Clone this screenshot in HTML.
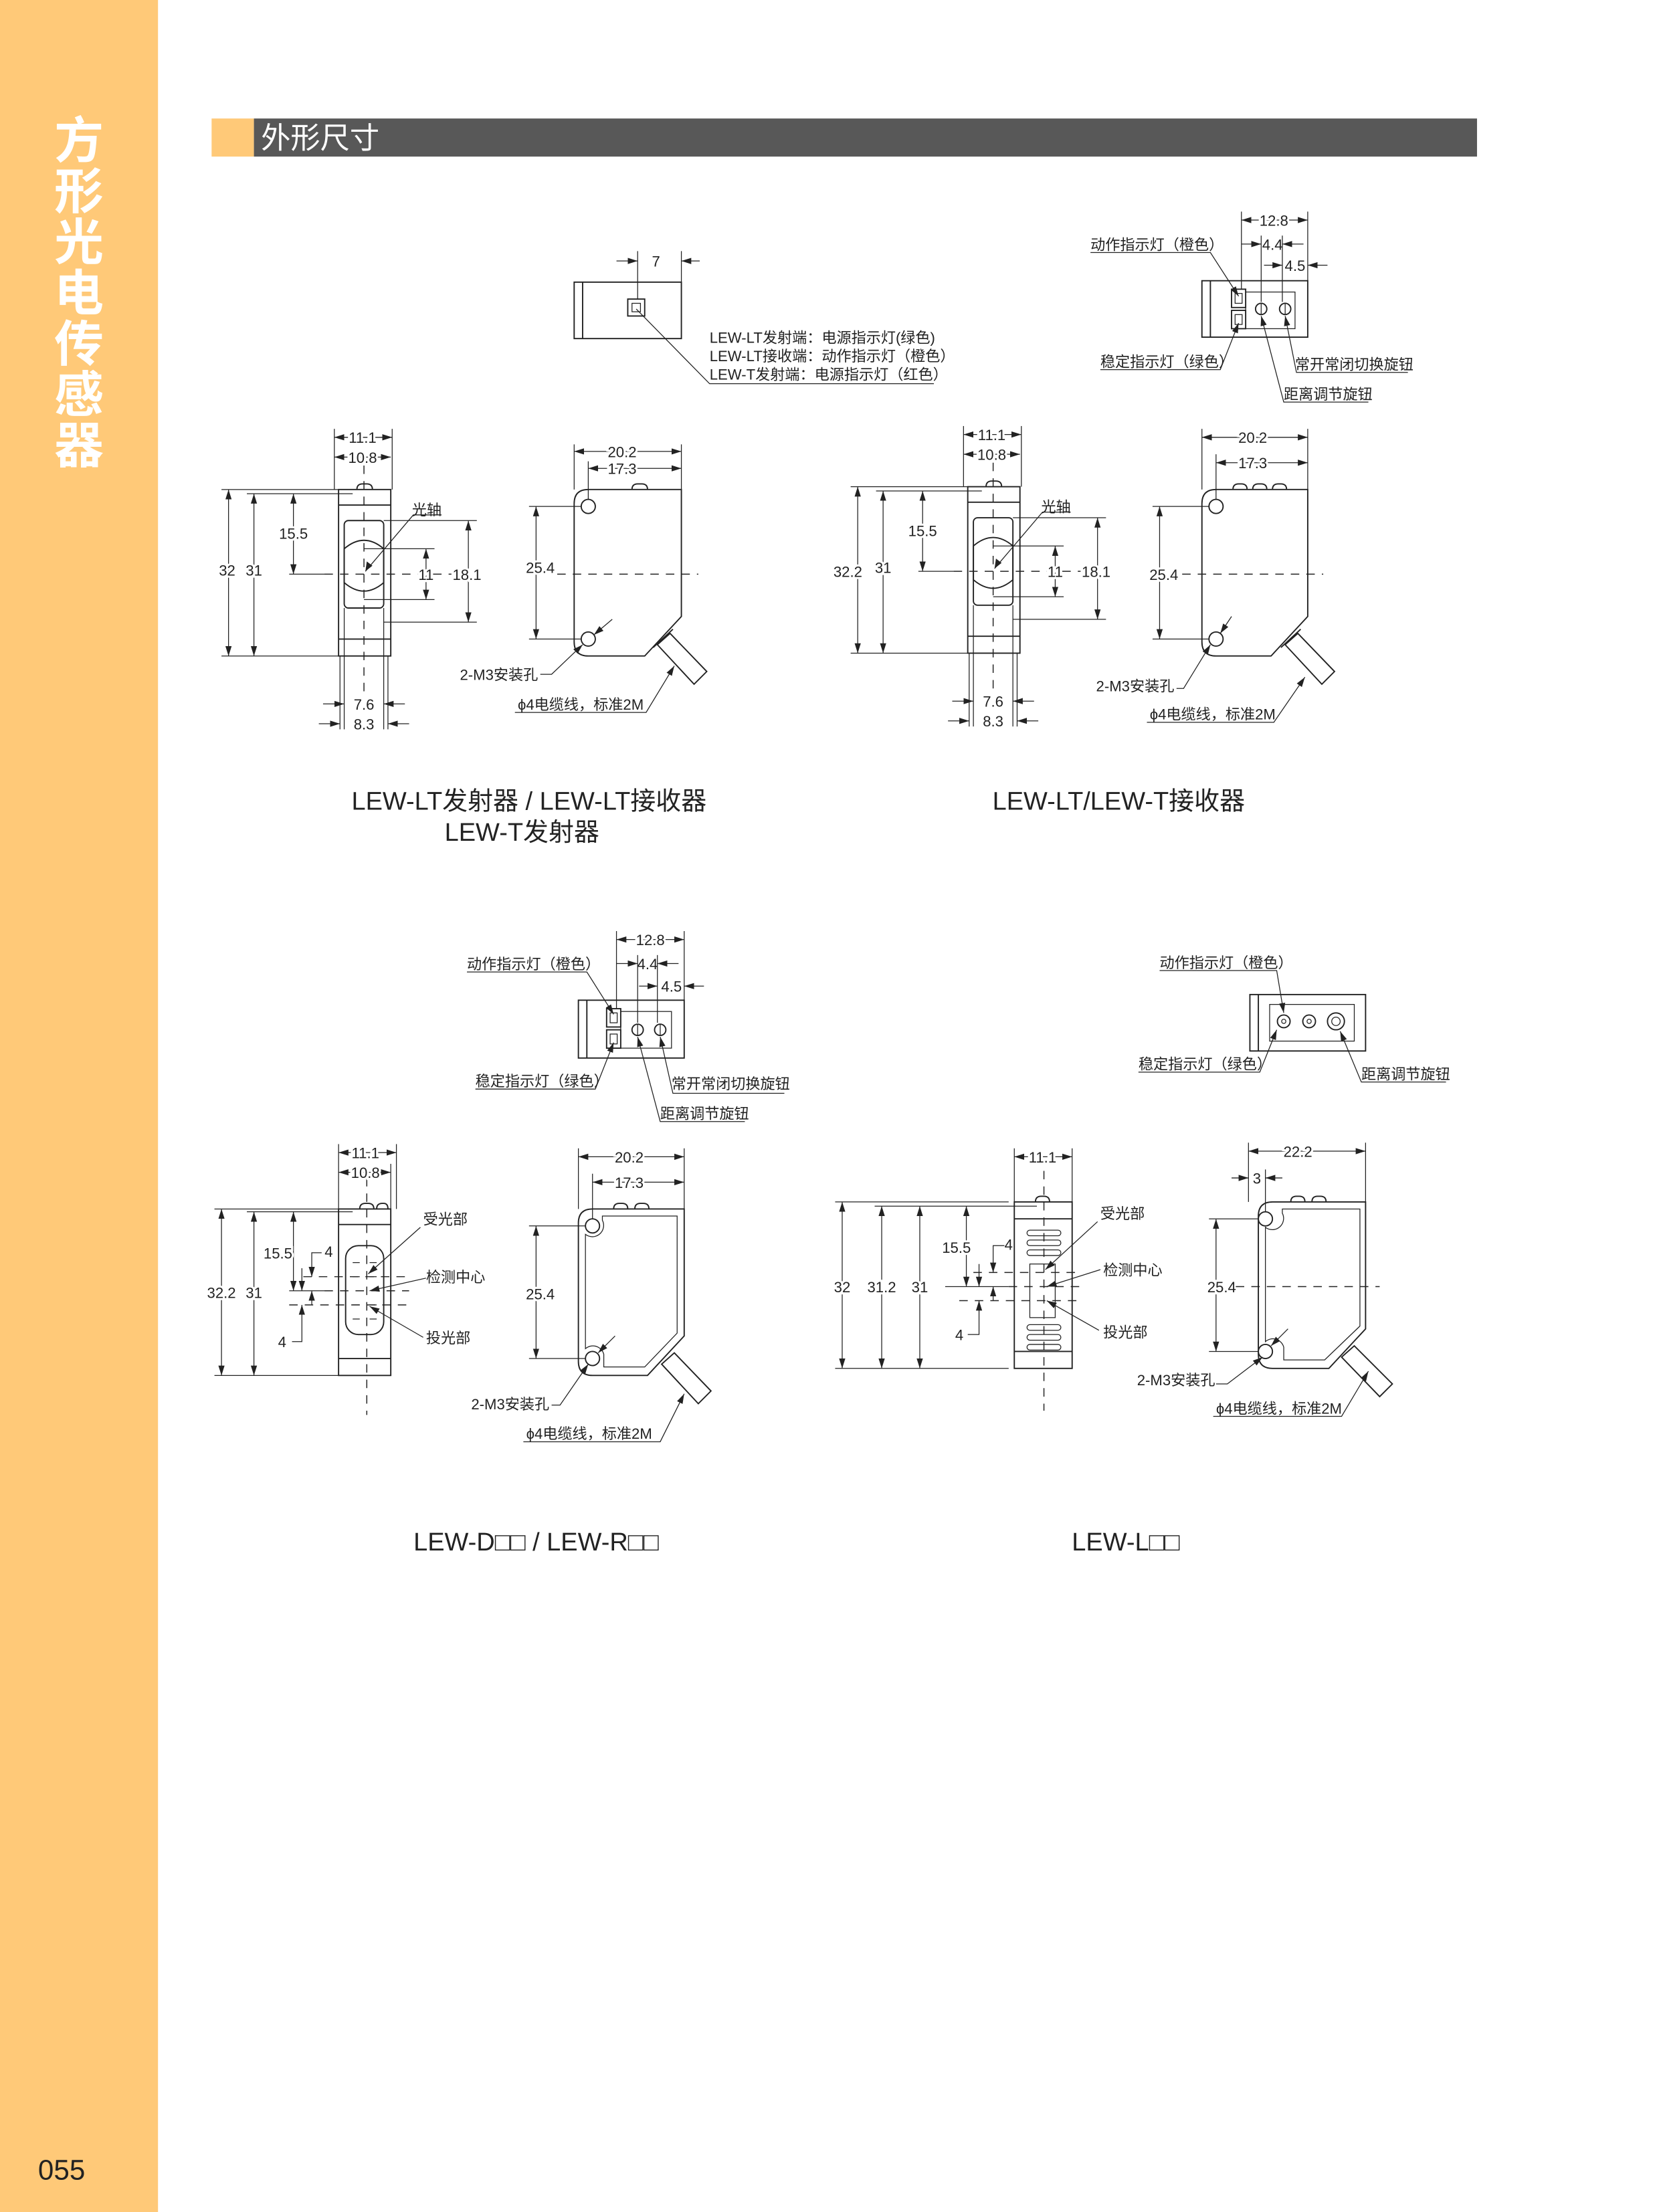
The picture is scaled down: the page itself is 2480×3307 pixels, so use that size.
<!DOCTYPE html>
<html><head><meta charset="utf-8"><style>
html,body{margin:0;padding:0;background:#fff}
svg{display:block}
text{font-family:"Liberation Sans","Noto Sans CJK SC",sans-serif;fill:#222}
.l{stroke:#222;stroke-width:0.9;fill:none}
.t{stroke:#222;stroke-width:0.6;fill:none}
.d{stroke:#222;stroke-width:0.7;fill:none;stroke-dasharray:6 5}
.a{stroke:#222;stroke-width:0.6;fill:none;marker-end:url(#ar)}
.aa{stroke:#222;stroke-width:0.6;fill:none;marker-start:url(#ar);marker-end:url(#ar)}
.s{font-size:10.5px}
.w{paint-order:stroke;stroke:#fff;stroke-width:3px}
</style></head><body>
<svg width="2480" height="3307" viewBox="0 0 1176 1568" preserveAspectRatio="none" xmlns="http://www.w3.org/2000/svg">
<defs>
<marker id="ar" markerUnits="userSpaceOnUse" markerWidth="8" markerHeight="6" refX="7" refY="3" orient="auto-start-reverse"><path d="M0,0.8 L7,3 L0,5.2 Z" fill="#222"/></marker>
</defs>
<!-- sidebar -->
<rect x="0" y="0" width="112" height="1568" fill="#FFC978"/>
<g font-size="35" font-weight="bold" text-anchor="middle">
<text x="56" y="112" style="fill:#fff">方</text><text x="56" y="148" style="fill:#fff">形</text><text x="56" y="184" style="fill:#fff">光</text><text x="56" y="220" style="fill:#fff">电</text><text x="56" y="256" style="fill:#fff">传</text><text x="56" y="292" style="fill:#fff">感</text><text x="56" y="328" style="fill:#fff">器</text>
</g>
<text x="27" y="1545" font-size="20">055</text>
<!-- header -->
<rect x="150" y="84" width="30" height="27" fill="#FFC978"/>
<rect x="180" y="84" width="867" height="27" fill="#585858"/>
<text x="185" y="105" font-size="21" style="fill:#fff">外形尺寸</text>

<!-- ===== D1 top view ===== -->
<rect class="l" x="407" y="200" width="76" height="40"/>
<line class="l" x1="413" y1="200" x2="413" y2="240"/>
<rect class="l" x="445" y="212" width="12" height="12"/><rect class="t" x="448" y="215" width="6" height="6"/>
<line class="t" x1="452" y1="178" x2="452" y2="212"/><line class="t" x1="483" y1="178" x2="483" y2="200"/>
<line class="a" x1="437" y1="185" x2="452" y2="185"/><line class="a" x1="496" y1="185" x2="483" y2="185"/>
<text class="s" x="465" y="189" text-anchor="middle">7</text>
<polyline class="t" points="451,219 503,272 662,272"/>
<text class="s" x="503" y="243">LEW-LT发射端：电源指示灯(绿色)</text>
<text class="s" x="503" y="256">LEW-LT接收端：动作指示灯（橙色）</text>
<text class="s" x="503" y="269">LEW-T发射端：电源指示灯（红色）</text>

<!-- ===== side view group (D1) ===== -->
<g id="side1">
<rect class="l" x="240" y="347" width="37" height="118"/>
<line class="l" x1="240" y1="358" x2="277" y2="358"/><line class="l" x1="240" y1="453" x2="277" y2="453"/>
<path class="l" d="M253,347 Q253,343 257,343 L260,343 Q264,343 264,347"/>
<rect class="l" x="244" y="369" width="28" height="62" rx="3"/>
<path class="l" d="M244,389 Q258,377 272,389 L272,413 Q258,425 244,413 Z"/>
<line class="d" x1="258" y1="330" x2="258" y2="490"/>
<line class="t" x1="237" y1="304" x2="237" y2="347"/><line class="t" x1="278" y1="304" x2="278" y2="347"/>
<line class="aa" x1="237" y1="310" x2="278" y2="310"/><line class="aa" x1="237" y1="324" x2="277" y2="324"/>
<text class="s w" x="257" y="314" text-anchor="middle">11.1</text><text class="s w" x="257" y="328" text-anchor="middle">10.8</text>
<line class="t" x1="157" y1="347" x2="240" y2="347"/><line class="t" x1="175" y1="350" x2="250" y2="350"/>
<line class="t" x1="157" y1="465" x2="240" y2="465"/>
<line class="t" x1="205" y1="407" x2="230" y2="407"/><line class="d" x1="230" y1="407" x2="320" y2="407"/>
<line class="t" x1="258" y1="389" x2="308" y2="389"/><line class="t" x1="258" y1="425" x2="308" y2="425"/>
<line class="t" x1="272" y1="369" x2="338" y2="369"/><line class="t" x1="272" y1="441" x2="338" y2="441"/>
<line class="aa" x1="162" y1="347" x2="162" y2="465"/><line class="aa" x1="180" y1="350" x2="180" y2="465"/>
<line class="aa" x1="208" y1="350" x2="208" y2="407"/>
<line class="aa" x1="302" y1="389" x2="302" y2="425"/><line class="aa" x1="332" y1="369" x2="332" y2="441"/>
<text class="s w" x="180" y="408" text-anchor="middle">31</text>
<text class="s w" x="208" y="382" text-anchor="middle">15.5</text>
<text class="s w" x="302" y="411" text-anchor="middle">11</text>
<text class="s w" x="331" y="411" text-anchor="middle">18.1</text>
<polyline class="t" points="313,365 293,365 259,405"/><path d="M259,405 l1,-7 l4,3 z" fill="#222"/>
<text class="s" x="292" y="365">光轴</text>
<line class="t" x1="244" y1="431" x2="244" y2="517"/><line class="t" x1="272" y1="431" x2="272" y2="517"/>
<line class="t" x1="241" y1="465" x2="241" y2="517"/><line class="t" x1="275" y1="465" x2="275" y2="517"/>
<line class="a" x1="229" y1="499" x2="244" y2="499"/><line class="a" x1="287" y1="499" x2="272" y2="499"/>
<line class="a" x1="226" y1="513" x2="241" y2="513"/><line class="a" x1="290" y1="513" x2="275" y2="513"/>
<text class="s" x="258" y="503" text-anchor="middle">7.6</text><text class="s" x="258" y="517" text-anchor="middle">8.3</text>
</g>
<text class="s w" x="161" y="408" text-anchor="middle">32</text>

<!-- ===== D1 front ===== -->
<path class="l" d="M417,347 H483 V437 L457,465 H417 Q407,465 407,455 V357 Q407,347 417,347 Z"/>
<circle class="l" cx="417" cy="359" r="5"/><circle class="l" cx="417" cy="453" r="5"/>
<path class="l" d="M448,347 Q448,343 452,343 L455,343 Q459,343 459,347"/>
<polygon class="l" points="466,457 475,449 501,476 492,485"/>
<line class="l" x1="463" y1="459" x2="477" y2="446"/>
<line class="t" x1="407" y1="315" x2="407" y2="347"/><line class="t" x1="483" y1="315" x2="483" y2="347"/>
<line class="t" x1="417" y1="327" x2="417" y2="354"/>
<line class="aa" x1="407" y1="320" x2="483" y2="320"/><line class="aa" x1="417" y1="332" x2="483" y2="332"/>
<text class="s w" x="441" y="324" text-anchor="middle">20.2</text><text class="s w" x="441" y="336" text-anchor="middle">17.3</text>
<line class="t" x1="375" y1="359" x2="412" y2="359"/><line class="t" x1="375" y1="453" x2="412" y2="453"/>
<line class="aa" x1="380" y1="359" x2="380" y2="453"/>
<text class="s w" x="383" y="406" text-anchor="middle">25.4</text>
<line class="d" x1="395" y1="407" x2="495" y2="407"/>
<polyline class="a" points="383,478 391,478 413,457"/><line class="a" x1="434" y1="439" x2="421" y2="450"/>
<text class="s" x="326" y="482">2-M3安装孔</text>
<polyline class="a" points="365,505 458,505 478,472"/>
<text class="s" x="367" y="503">ϕ4电缆线，标准2M</text>

<!-- ===== D2 ===== -->
<use href="#side1" transform="translate(446,-2)"/>
<text class="s w" x="601" y="409" text-anchor="middle">32.2</text>
<!-- D2 top -->
<rect class="l" x="852" y="199" width="75" height="40"/>
<line class="l" x1="858" y1="199" x2="858" y2="239"/>
<rect class="l" x="873" y="205" width="10" height="13"/><rect class="t" x="875.5" y="208" width="5" height="7"/>
<rect class="l" x="873" y="220" width="10" height="13"/><rect class="t" x="875.5" y="223" width="5" height="7"/>
<rect class="t" x="883" y="207" width="35" height="26"/>
<circle class="l" cx="894" cy="219" r="4"/><line class="t" x1="894" y1="215" x2="894" y2="223"/>
<circle class="l" cx="911" cy="219" r="4"/><line class="t" x1="911" y1="215" x2="911" y2="223"/>
<line class="t" x1="880" y1="150" x2="880" y2="205"/><line class="t" x1="927" y1="150" x2="927" y2="199"/>
<line class="t" x1="894" y1="167" x2="894" y2="214"/><line class="t" x1="909" y1="167" x2="909" y2="214"/>
<line class="aa" x1="880" y1="156" x2="927" y2="156"/>
<text class="s w" x="903" y="160" text-anchor="middle">12.8</text>
<line class="a" x1="880" y1="173" x2="894" y2="173"/><line class="a" x1="924" y1="173" x2="909" y2="173"/>
<text class="s" x="902" y="177" text-anchor="middle">4.4</text>
<line class="a" x1="896" y1="188" x2="909" y2="188"/><line class="a" x1="941" y1="188" x2="927" y2="188"/>
<text class="s" x="918" y="192" text-anchor="middle">4.5</text>
<polyline class="a" points="773,179 858,179 878,210"/><text class="s" x="773" y="177">动作指示灯（橙色）</text>
<polyline class="a" points="780,262 865,262 878,229"/><text class="s" x="780" y="260">稳定指示灯（绿色）</text>
<polyline class="a" points="998,264 919,264 911,224"/><text class="s" x="918" y="262">常开常闭切换旋钮</text>
<polyline class="a" points="970,285 910,285 894,224"/><text class="s" x="910" y="283">距离调节旋钮</text>
<!-- D2 front -->
<path class="l" d="M862,347 H927 V437 L901,465 H862 Q852,465 852,455 V357 Q852,347 862,347 Z"/>
<circle class="l" cx="862" cy="359" r="5"/><circle class="l" cx="862" cy="453" r="5"/>
<path class="l" d="M874,347 Q874,343 878,343 L880,343 Q884,343 884,347 M888,347 Q888,343 892,343 L894,343 Q898,343 898,347 M902,347 Q902,343 906,343 L908,343 Q912,343 912,347"/>
<polygon class="l" points="911,457 920,449 946,476 937,485"/>
<line class="l" x1="908" y1="459" x2="922" y2="446"/>
<line class="t" x1="852" y1="304" x2="852" y2="347"/><line class="t" x1="927" y1="304" x2="927" y2="347"/>
<line class="t" x1="862" y1="322" x2="862" y2="354"/>
<line class="aa" x1="852" y1="310" x2="927" y2="310"/><line class="aa" x1="862" y1="328" x2="927" y2="328"/>
<text class="s w" x="888" y="314" text-anchor="middle">20.2</text><text class="s w" x="888" y="332" text-anchor="middle">17.3</text>
<line class="t" x1="817" y1="359" x2="857" y2="359"/><line class="t" x1="817" y1="453" x2="857" y2="453"/>
<line class="aa" x1="822" y1="359" x2="822" y2="453"/>
<text class="s w" x="825" y="411" text-anchor="middle">25.4</text>
<line class="d" x1="838" y1="407" x2="938" y2="407"/>
<polyline class="a" points="834,488 839,488 858,457"/><line class="a" x1="873" y1="437" x2="865" y2="449"/>
<text class="s" x="777" y="490">2-M3安装孔</text>
<polyline class="a" points="813,512 903,512 925,480"/>
<text class="s" x="815" y="510">ϕ4电缆线，标准2M</text>

<text x="375" y="574" font-size="18" text-anchor="middle">LEW-LT发射器 / LEW-LT接收器</text>
<text x="370" y="596" font-size="18" text-anchor="middle">LEW-T发射器</text>
<text x="793" y="574" font-size="18" text-anchor="middle">LEW-LT/LEW-T接收器</text>

<!-- ===== D3 top ===== -->
<rect class="l" x="410" y="709" width="75" height="41"/>
<line class="l" x1="416" y1="709" x2="416" y2="750"/>
<rect class="l" x="430" y="715" width="10" height="13"/><rect class="t" x="432.5" y="718" width="5" height="7"/>
<rect class="l" x="430" y="730" width="10" height="13"/><rect class="t" x="432.5" y="733" width="5" height="7"/>
<rect class="t" x="440" y="717" width="36" height="26"/>
<circle class="l" cx="452" cy="730" r="4"/><line class="t" x1="452" y1="726" x2="452" y2="734"/>
<circle class="l" cx="468" cy="730" r="4"/><line class="t" x1="468" y1="726" x2="468" y2="734"/>
<line class="t" x1="437" y1="660" x2="437" y2="715"/><line class="t" x1="485" y1="660" x2="485" y2="709"/>
<line class="t" x1="452" y1="677" x2="452" y2="725"/><line class="t" x1="466" y1="677" x2="466" y2="725"/>
<line class="aa" x1="437" y1="666" x2="485" y2="666"/>
<text class="s w" x="461" y="670" text-anchor="middle">12.8</text>
<line class="a" x1="437" y1="683" x2="452" y2="683"/><line class="a" x1="481" y1="683" x2="466" y2="683"/>
<text class="s" x="459" y="687" text-anchor="middle">4.4</text>
<line class="a" x1="453" y1="699" x2="466" y2="699"/><line class="a" x1="499" y1="699" x2="485" y2="699"/>
<text class="s" x="476" y="703" text-anchor="middle">4.5</text>
<polyline class="a" points="331,689 416,689 435,719"/><text class="s" x="331" y="687">动作指示灯（橙色）</text>
<polyline class="a" points="337,772 422,772 435,739"/><text class="s" x="337" y="770">稳定指示灯（绿色）</text>
<polyline class="a" points="556,775 477,775 468,735"/><text class="s" x="476" y="772">常开常闭切换旋钮</text>
<polyline class="a" points="528,795 468,795 452,735"/><text class="s" x="468" y="793">距离调节旋钮</text>
<!-- D3 side -->
<rect class="l" x="240" y="857" width="37" height="118"/>
<line class="l" x1="240" y1="868" x2="277" y2="868"/><line class="l" x1="240" y1="963" x2="277" y2="963"/>
<path class="l" d="M255,857 Q255,853 259,853 L261,853 Q265,853 265,857 M267,857 Q267,853 271,853 L272,853 Q275,853 275,857"/>
<rect class="l" x="245" y="883" width="27" height="63" rx="9"/>
<g class="t"><line x1="250" y1="895" x2="255" y2="895"/><line x1="262" y1="895" x2="267" y2="895"/><line x1="250" y1="905" x2="255" y2="905"/><line x1="262" y1="905" x2="267" y2="905"/><line x1="250" y1="925" x2="255" y2="925"/><line x1="262" y1="925" x2="267" y2="925"/><line x1="250" y1="935" x2="255" y2="935"/><line x1="262" y1="935" x2="267" y2="935"/></g>
<line class="d" x1="260" y1="835" x2="260" y2="1003"/>
<line class="t" x1="240" y1="811" x2="240" y2="857"/><line class="t" x1="281" y1="811" x2="281" y2="857"/><line class="t" x1="277" y1="825" x2="277" y2="857"/>
<line class="aa" x1="240" y1="817" x2="281" y2="817"/><line class="aa" x1="240" y1="831" x2="277" y2="831"/>
<text class="s w" x="259" y="821" text-anchor="middle">11.1</text><text class="s w" x="259" y="835" text-anchor="middle">10.8</text>
<line class="t" x1="152" y1="857" x2="240" y2="857"/><line class="t" x1="175" y1="859" x2="250" y2="859"/><line class="t" x1="152" y1="975" x2="240" y2="975"/>
<line class="t" x1="205" y1="915" x2="230" y2="915"/><line class="d" x1="230" y1="915" x2="290" y2="915"/>
<line class="d" x1="215" y1="905" x2="290" y2="905"/><line class="d" x1="205" y1="925" x2="290" y2="925"/>
<line class="aa" x1="157" y1="857" x2="157" y2="975"/><line class="aa" x1="180" y1="859" x2="180" y2="975"/>
<line class="aa" x1="208" y1="859" x2="208" y2="915"/>
<polyline class="a" points="228,888 221,888 221,905"/><line class="a" x1="221" y1="925" x2="221" y2="915"/>
<polyline class="a" points="207,951 214,951 214,925"/><line class="a" x1="214" y1="899" x2="214" y2="915"/>
<text class="s w" x="157" y="920" text-anchor="middle">32.2</text><text class="s w" x="180" y="920" text-anchor="middle">31</text>
<text class="s w" x="197" y="892" text-anchor="middle">15.5</text>
<text class="s" x="233" y="891" text-anchor="middle">4</text><text class="s" x="200" y="955" text-anchor="middle">4</text>
<line class="a" x1="298" y1="870" x2="261" y2="903"/><text class="s" x="300" y="868">受光部</text>
<line class="a" x1="302" y1="906" x2="262" y2="915"/><text class="s" x="302" y="909">检测中心</text>
<line class="a" x1="300" y1="948" x2="262" y2="926"/><text class="s" x="302" y="952">投光部</text>
<!-- D3 front -->
<path class="l" d="M420,857 H485 V947 L459,975 H420 Q410,975 410,965 V867 Q410,857 420,857 Z"/>
<path class="t" d="M427,862 H480 V945 L457,969 H428 V960 A8,8 0 0 0 415,956 V875 A8,8 0 0 0 427,865 Z"/>
<circle class="l" cx="420" cy="869" r="5"/><circle class="l" cx="420" cy="963" r="5"/>
<path class="l" d="M435,857 Q435,853 439,853 L441,853 Q445,853 445,857 M450,857 Q450,853 454,853 L456,853 Q460,853 460,857"/>
<polygon class="l" points="469,967 478,959 504,986 495,995"/>
<line class="t" x1="410" y1="814" x2="410" y2="857"/><line class="t" x1="485" y1="814" x2="485" y2="857"/>
<line class="t" x1="420" y1="832" x2="420" y2="864"/>
<line class="aa" x1="410" y1="820" x2="485" y2="820"/><line class="aa" x1="420" y1="838" x2="485" y2="838"/>
<text class="s w" x="446" y="824" text-anchor="middle">20.2</text><text class="s w" x="446" y="842" text-anchor="middle">17.3</text>
<line class="t" x1="375" y1="869" x2="415" y2="869"/><line class="t" x1="375" y1="963" x2="415" y2="963"/>
<line class="aa" x1="380" y1="869" x2="380" y2="963"/>
<text class="s w" x="383" y="921" text-anchor="middle">25.4</text>
<polyline class="a" points="391,996 397,996 417,967"/><line class="a" x1="436" y1="947" x2="424" y2="959"/>
<text class="s" x="334" y="999">2-M3安装孔</text>
<polyline class="a" points="371,1022 468,1022 485,988"/>
<text class="s" x="373" y="1020">ϕ4电缆线，标准2M</text>

<!-- ===== D4 top ===== -->
<rect class="l" x="886" y="705" width="82" height="40"/>
<line class="l" x1="892" y1="705" x2="892" y2="745"/>
<rect class="t" x="900" y="712" width="60" height="26"/>
<circle class="l" cx="910" cy="724" r="4.5"/><circle class="t" cx="910" cy="724" r="1.5"/>
<circle class="l" cx="928" cy="724" r="4.5"/><circle class="t" cx="928" cy="724" r="1.5"/>
<circle class="l" cx="947" cy="724" r="6"/><circle class="t" cx="947" cy="724" r="3"/>
<polyline class="a" points="822,688 905,688 910,718"/><text class="s" x="822" y="686">动作指示灯（橙色）</text>
<polyline class="a" points="807,760 893,760 905,730"/><text class="s" x="807" y="758">稳定指示灯（绿色）</text>
<polyline class="a" points="1025,767 965,767 950,731"/><text class="s" x="965" y="765">距离调节旋钮</text>
<!-- D4 side -->
<rect class="l" x="719" y="852" width="41" height="118"/>
<line class="l" x1="719" y1="864" x2="760" y2="864"/><line class="l" x1="719" y1="958" x2="760" y2="958"/>
<path class="l" d="M734,852 Q734,848 738,848 L740,848 Q744,848 744,852"/>
<g class="t">
<rect x="728" y="872" width="24" height="4" rx="2"/><rect x="728" y="879" width="24" height="4" rx="2"/><rect x="728" y="886" width="24" height="4" rx="2"/>
<rect x="728" y="939" width="24" height="4" rx="2"/><rect x="728" y="946" width="24" height="4" rx="2"/><rect x="728" y="953" width="24" height="4" rx="2"/>
<rect x="730" y="896" width="18" height="38"/></g>
<line class="d" x1="740" y1="830" x2="740" y2="1000"/>
<line class="t" x1="719" y1="814" x2="719" y2="852"/><line class="t" x1="760" y1="814" x2="760" y2="852"/>
<line class="aa" x1="719" y1="820" x2="760" y2="820"/>
<text class="s w" x="739" y="824" text-anchor="middle">11.1</text>
<line class="t" x1="592" y1="852" x2="715" y2="852"/><line class="t" x1="620" y1="855" x2="735" y2="855"/><line class="t" x1="592" y1="970" x2="715" y2="970"/>
<line class="t" x1="670" y1="912" x2="715" y2="912"/><line class="d" x1="715" y1="912" x2="765" y2="912"/>
<line class="d" x1="690" y1="902" x2="765" y2="902"/><line class="d" x1="680" y1="922" x2="765" y2="922"/>
<line class="aa" x1="597" y1="852" x2="597" y2="970"/><line class="aa" x1="625" y1="855" x2="625" y2="970"/><line class="aa" x1="652" y1="855" x2="652" y2="970"/>
<line class="aa" x1="685" y1="855" x2="685" y2="912"/>
<polyline class="a" points="712,883 704,883 704,902"/><line class="a" x1="704" y1="922" x2="704" y2="912"/>
<polyline class="a" points="686,946 694,946 694,922"/><line class="a" x1="694" y1="896" x2="694" y2="912"/>
<text class="s w" x="597" y="916" text-anchor="middle">32</text><text class="s w" x="625" y="916" text-anchor="middle">31.2</text><text class="s w" x="652" y="916" text-anchor="middle">31</text>
<text class="s w" x="678" y="888" text-anchor="middle">15.5</text>
<text class="s" x="715" y="886" text-anchor="middle">4</text><text class="s" x="680" y="950" text-anchor="middle">4</text>
<line class="a" x1="778" y1="866" x2="741" y2="900"/><text class="s" x="780" y="864">受光部</text>
<line class="a" x1="780" y1="900" x2="742" y2="912"/><text class="s" x="782" y="904">检测中心</text>
<line class="a" x1="779" y1="943" x2="742" y2="922"/><text class="s" x="782" y="948">投光部</text>
<!-- D4 front -->
<path class="l" d="M902,852 H968 V942 L942,970 H902 Q892,970 892,960 V862 Q892,852 902,852 Z"/>
<path class="t" d="M909,857 H964 V940 L939,964 H910 V955 A8,8 0 0 0 897,951 V870 A8,8 0 0 0 909,860 Z"/>
<circle class="l" cx="897" cy="864" r="5"/><circle class="l" cx="897" cy="958" r="5"/>
<path class="l" d="M915,852 Q915,848 919,848 L921,848 Q925,848 925,852 M930,852 Q930,848 934,848 L936,848 Q940,848 940,852"/>
<polygon class="l" points="951,962 960,954 987,981 978,990"/>
<line class="t" x1="885" y1="810" x2="885" y2="852"/><line class="t" x1="968" y1="810" x2="968" y2="852"/>
<line class="t" x1="897" y1="829" x2="897" y2="859"/>
<line class="aa" x1="885" y1="816" x2="968" y2="816"/>
<text class="s w" x="920" y="820" text-anchor="middle">22.2</text>
<line class="a" x1="873" y1="835" x2="885" y2="835"/><line class="a" x1="909" y1="835" x2="897" y2="835"/>
<text class="s" x="891" y="839" text-anchor="middle">3</text>
<line class="t" x1="857" y1="864" x2="892" y2="864"/><line class="t" x1="857" y1="958" x2="892" y2="958"/>
<line class="aa" x1="862" y1="864" x2="862" y2="958"/>
<text class="s w" x="866" y="916" text-anchor="middle">25.4</text>
<line class="d" x1="876" y1="912" x2="978" y2="912"/>
<polyline class="a" points="862,981 870,981 895,962"/><line class="a" x1="913" y1="942" x2="901" y2="954"/>
<text class="s" x="806" y="982">2-M3安装孔</text>
<polyline class="a" points="860,1004 951,1004 970,972"/>
<text class="s" x="862" y="1002">ϕ4电缆线，标准2M</text>

<text x="380" y="1099" font-size="18" text-anchor="middle">LEW-D□□ / LEW-R□□</text>
<text x="798" y="1099" font-size="18" text-anchor="middle">LEW-L□□</text>
</svg>
</body></html>
